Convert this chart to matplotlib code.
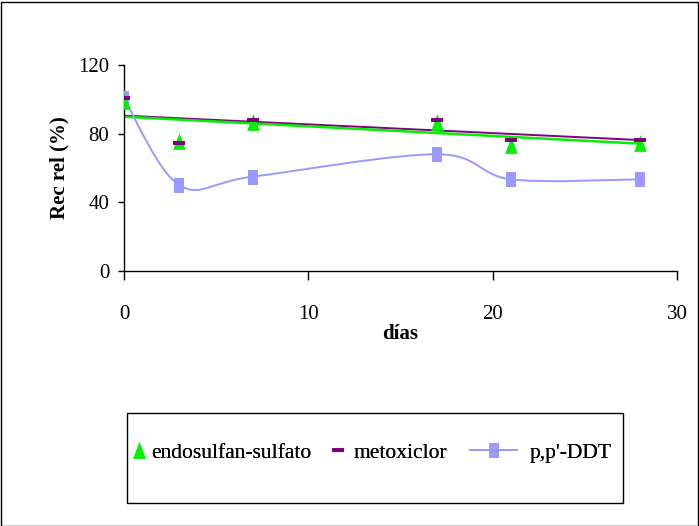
import numpy as np
import matplotlib
matplotlib.use("Agg")
import matplotlib.pyplot as plt
from matplotlib.path import Path
from matplotlib.patches import PathPatch, Rectangle
from matplotlib.lines import Line2D

plt.rcParams['font.family'] = ['Liberation Serif', 'DejaVu Serif']

# Recovery data (% relative) by day
dias = [0, 3, 7, 17, 21, 28]
endosulfan_sulfato = [99, 75.5, 87, 87, 73.4, 74.8]
metoxiclor = [101, 74.8, 87.7, 88, 76.6, 76.3]
pp_ddt = [100.5, 50, 55, 68, 53.4, 53.4]

series_names = ["endosulfan-sulfato", "metoxiclor", "p,p'-DDT"]
x_ticks = [0, 10, 20, 30]
y_ticks = [0, 40, 80, 120]

c_endo = '#00F000'
c_meto = '#800080'
c_ddt = '#9999FF'
FS = 15
FS_LEG = 15.5

# marker shapes: slim triangle and upright rectangle
tri = [(0, 1), (-0.75, -1), (0.75, -1), (0, 1)]
rect = [(-0.72, -1), (0.72, -1), (0.72, 1), (-0.72, 1), (-0.72, -1)]
tri_kw = dict(marker=tri, ms=12, color=c_endo, mec=c_endo, mew=0)
dash_kw = dict(marker='_', ms=9.2, mew=2.9, color=c_meto)
sq_kw = dict(marker=rect, ms=10.8, color=c_ddt, mec=c_ddt, mew=0)

fig = plt.figure(figsize=(6.99, 5.26), dpi=100)
W, H = 699, 526
ax = fig.add_axes([124 / W, 1 - 271 / H, (677 - 124) / W, (271 - 65) / H])

x = np.array(dias, dtype=float)

# linear trend lines for endosulfan-sulfato and metoxiclor
for vals, col, lw in ((metoxiclor, c_meto, 1.4), (endosulfan_sulfato, c_endo, 1.8)):
    m, b = np.polyfit(x, np.array(vals, dtype=float), 1)
    xx = np.array([x.min(), x.max()])
    ax.plot(xx, m * xx + b, color=col, lw=lw, zorder=2)

# smoothed line through p,p'-DDT points (cardinal Bezier segments)
pts = np.column_stack([x, np.array(pp_ddt, dtype=float)])
verts = [tuple(pts[0])]
codes = [Path.MOVETO]
n = len(pts)
for i in range(n - 1):
    p0 = pts[i - 1] if i > 0 else pts[i]
    p1 = pts[i]
    p2 = pts[i + 1]
    p3 = pts[i + 2] if i + 2 < n else pts[i + 1]
    c1 = p1 + (p2 - p0) / 6.0
    c2 = p2 - (p3 - p1) / 6.0
    verts += [tuple(c1), tuple(c2), tuple(p2)]
    codes += [Path.CURVE4] * 3
ax.add_patch(PathPatch(Path(verts, codes), facecolor='none', edgecolor=c_ddt, lw=1.4, zorder=2))
ax.plot(x, pp_ddt, ls='none', zorder=3, **sq_kw)

ax.plot(x, endosulfan_sulfato, ls='none', zorder=4, **tri_kw)
ax.plot(x, metoxiclor, ls='none', zorder=5, **dash_kw)

ax.set_xlim(0, 30)
ax.set_ylim(0, 120)
ax.set_xticks(x_ticks)
ax.set_yticks(y_ticks)
for s in ('top', 'right'):
    ax.spines[s].set_visible(False)
for s in ('left', 'bottom'):
    ax.spines[s].set_linewidth(1.0)
    ax.spines[s].set_color('black')
ax.tick_params(axis='x', direction='out', length=6.5, width=1, pad=18, labelsize=FS)
ax.tick_params(axis='y', direction='out', length=4.5, width=1, pad=6, labelsize=FS)
ax.set_xlabel('días', fontsize=FS, fontweight='bold', labelpad=0)
ax.set_ylabel('Rec rel (%)', fontsize=FS, fontweight='bold', labelpad=6)
ax.patch.set_alpha(0)

# legend frame and entries
fig.add_artist(Rectangle((127 / W, 1 - 503 / H), (623 - 127) / W, (503 - 413) / H,
                         transform=fig.transFigure, fill=False, edgecolor='black', lw=1.0))
h_endo = Line2D([], [], ls='none', **tri_kw)
h_meto = Line2D([], [], ls='none', **dash_kw)
h_ddt = Line2D([], [], ls='-', lw=1.4, **sq_kw)
specs = [(h_endo, series_names[0], 131, 0.75, 0.2),
         (h_meto, series_names[1], 327, 1.0, 0.23),
         (h_ddt, series_names[2], 470, 2.2, 0.55)]
for h, lab, px, hl, tp in specs:
    leg = fig.legend([h], [lab], loc='center left', bbox_to_anchor=(px / W, 1 - 453 / H),
                     frameon=False, handlelength=hl, handletextpad=tp, fontsize=FS_LEG,
                     borderpad=0, borderaxespad=0, numpoints=1)
    fig.add_artist(leg)

# outer border
fig.add_artist(Rectangle((0.5 / W, 0.5 / H), (W - 2) / W, (H - 2) / H,
                         transform=fig.transFigure, fill=False, edgecolor='black', lw=1.0))

fig.savefig('out.png', dpi=100)
